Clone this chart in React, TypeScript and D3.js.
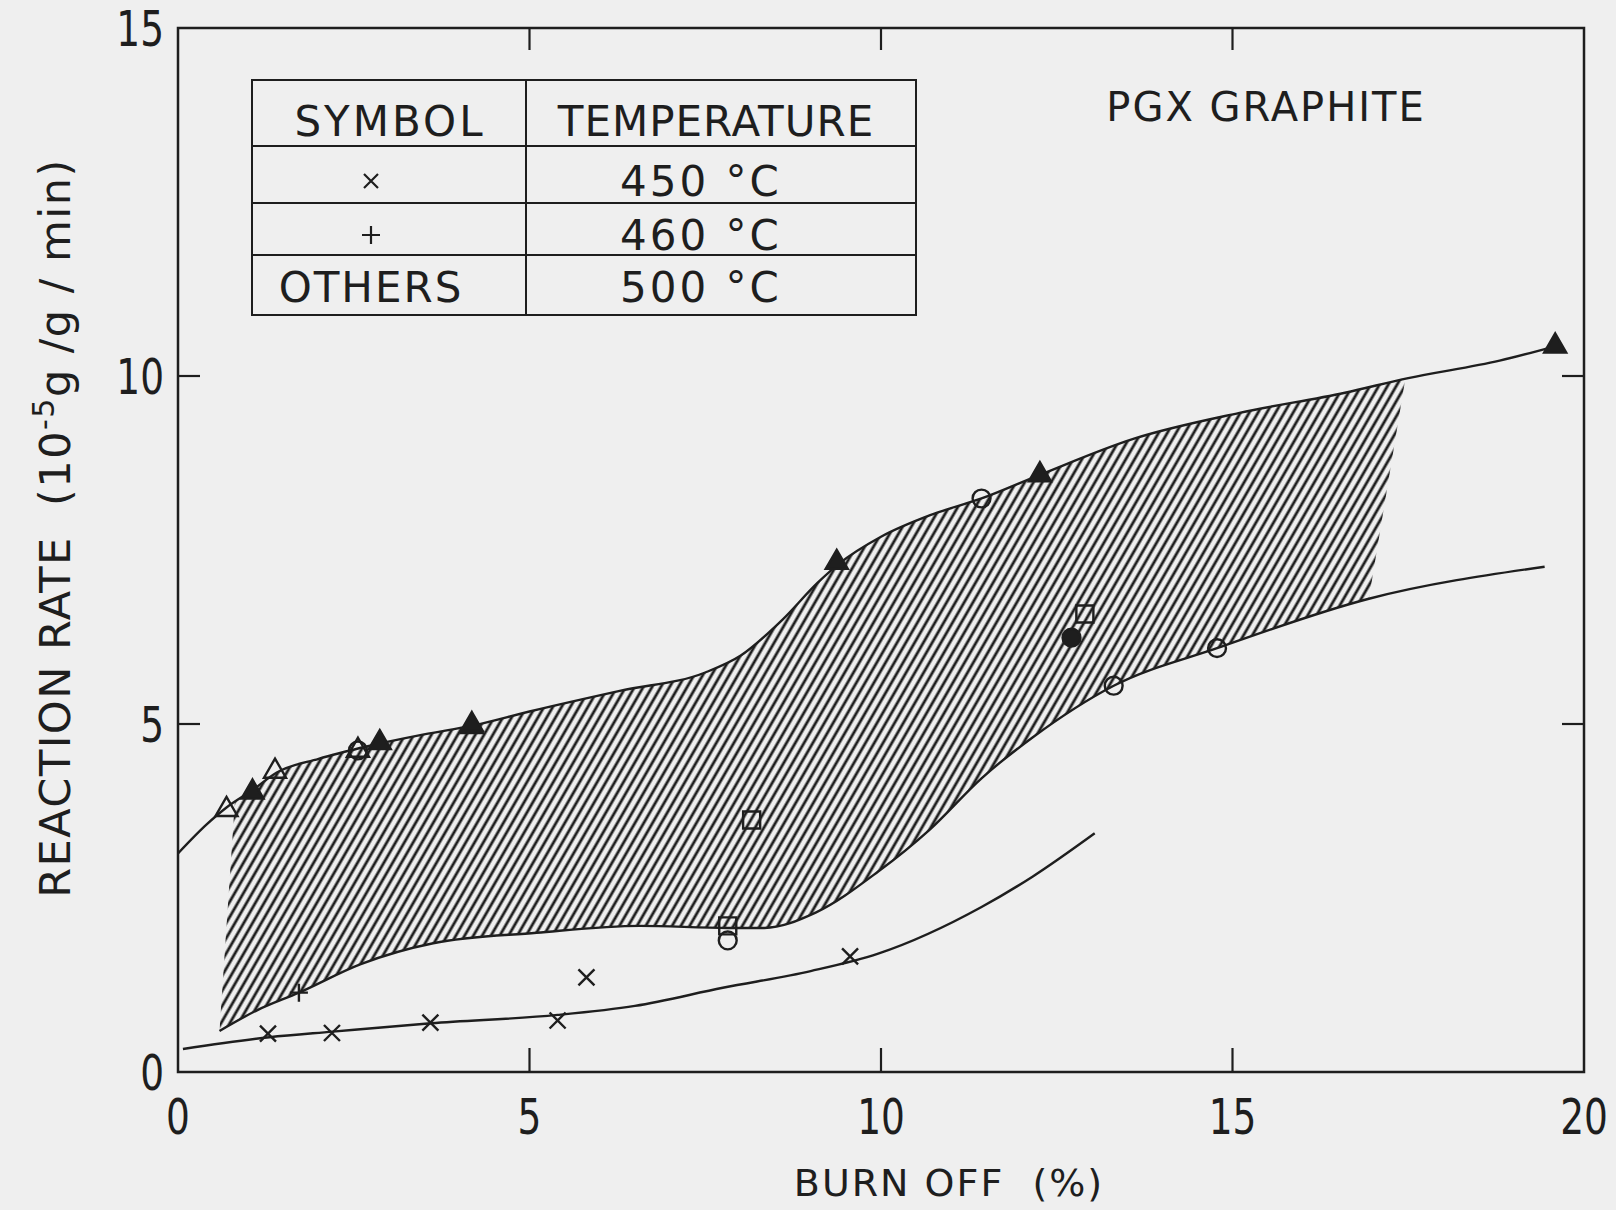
import React from "react";
import * as d3 from "d3";

// axis ticks
const xTicks = [0, 5, 10, 15, 20];
const yTicks = [0, 5, 10, 15];

// upper boundary of the 500 C band (burn off %, rate)
const upperCurve: [number, number][] = [
  [0, 3.14], [0.4, 3.55], [0.69, 3.8], [1.06, 4.05], [1.4, 4.3], [2, 4.5],
  [2.7, 4.68], [3.5, 4.85], [4.2, 4.98], [5, 5.18], [6.3, 5.48], [7.5, 5.74],
  [8.0, 5.98], [8.6, 6.5], [9.1, 7.03], [9.4, 7.3], [10, 7.69], [10.7, 8.0],
  [11.43, 8.24], [12.26, 8.58], [13.6, 9.1], [15.1, 9.47], [16.6, 9.76],
  [17.5, 9.97], [18.8, 10.22], [19.6, 10.43],
];

// lower boundary of the band
const lowerCurve: [number, number][] = [
  [0.59, 0.59], [1.13, 0.89], [1.72, 1.14], [2.6, 1.55], [3.63, 1.85],
  [5.1, 2.0], [6.57, 2.1], [7.82, 2.07], [8.34, 2.07], [9.07, 2.29],
  [9.96, 2.88], [10.69, 3.48], [11.43, 4.22], [12.16, 4.81], [13.31, 5.55],
  [14.78, 6.09], [16.94, 6.8], [19.44, 7.26],
];

// 450 C curve
const bottomCurve: [number, number][] = [
  [0.07, 0.33], [1.3, 0.5], [2.2, 0.58], [3.6, 0.7], [5.4, 0.82], [6.5, 0.95],
  [7.75, 1.21], [9, 1.45], [9.96, 1.7], [11.43, 2.37], [12.16, 2.81], [13.04, 3.43],
];

// ends of the hatched region
const hatchLeft: [number, number][] = [[0.59, 0.59], [0.81, 3.9]];
const hatchRight: [number, number][] = [[16.94, 6.8], [17.46, 9.97]];

// measured points
const cross450: [number, number][] = [
  [1.28, 0.55], [2.19, 0.56], [3.59, 0.71], [5.4, 0.74], [5.81, 1.36], [9.56, 1.66],
];
const plus460: [number, number][] = [[1.72, 1.14]];
const openTri: [number, number][] = [[0.69, 3.77], [1.38, 4.32], [2.56, 4.62], [4.18, 4.96]];
const filledTri: [number, number][] = [
  [1.06, 4.02], [2.87, 4.73], [4.18, 4.99], [9.37, 7.32], [12.26, 8.58], [19.59, 10.43],
];
const openCirc: [number, number][] = [
  [2.56, 4.62], [11.43, 8.24], [13.31, 5.55], [14.78, 6.09], [7.82, 1.89],
];
const filledCirc: [number, number][] = [[12.71, 6.24]];
const openSq: [number, number][] = [[8.16, 3.62], [7.82, 2.1], [12.9, 6.58]];

const legendRows = [
  { sym: "cross", label: "450 °C" },
  { sym: "plus", label: "460 °C" },
  { sym: "OTHERS", label: "500 °C" },
];

const INK = "#1e1e1e";
const FONT = "'DejaVu Sans', sans-serif";

export default function App() {
  const W = 1616;
  const H = 1210;
  const x = d3.scaleLinear().domain([0, 20]).range([178, 1584]);
  const y = d3.scaleLinear().domain([0, 15]).range([1072, 28]);

  const line = d3
    .line<[number, number]>()
    .x((d) => x(d[0]))
    .y((d) => y(d[1]))
    .curve(d3.curveMonotoneX);

  const upperPath = line(upperCurve) as string;
  const lowerPath = line(lowerCurve) as string;
  const bottomPath = line(bottomCurve) as string;

  // clip regions for the hatched band
  const lastU = upperCurve[upperCurve.length - 1];
  const clipBelowUpper = `${upperPath}L${x(lastU[0])},${y(-1)}L${x(upperCurve[0][0])},${y(-1)}Z`;
  const lastL = lowerCurve[lowerCurve.length - 1];
  const clipAboveLower = `${lowerPath}L${x(lastL[0])},${y(16)}L${x(lowerCurve[0][0])},${y(16)}Z`;
  const edgeAt = (e: [number, number][], v: number) =>
    e[0][0] + ((v - e[0][1]) * (e[1][0] - e[0][0])) / (e[1][1] - e[0][1]);
  const quad = [
    [edgeAt(hatchLeft, -1), -1],
    [edgeAt(hatchLeft, 16), 16],
    [edgeAt(hatchRight, 16), 16],
    [edgeAt(hatchRight, -1), -1],
  ]
    .map((p, i) => `${i ? "L" : "M"}${x(p[0])},${y(p[1])}`)
    .join("") + "Z";

  const tri = d3.symbol(d3.symbolTriangle, 210)() as string;
  const circ = d3.symbol(d3.symbolCircle, 250)() as string;
  const sq = d3.symbol(d3.symbolSquare, 290)() as string;
  const cross = "M-8,-8L8,8M-8,8L8,-8";
  const plus = "M-9,0L9,0M0,-9L0,9";

  const markers = (pts: [number, number][], d: string, filled: boolean, key: string) =>
    pts.map((p, i) => (
      <path
        key={key + i}
        d={d}
        transform={`translate(${x(p[0])},${y(p[1])})`}
        fill={filled ? INK : "none"}
        stroke={INK}
        strokeWidth={2.4}
      />
    ));

  const tickLabel = (t: string, tx: number, ty: number, anchor: string) => (
    <text
      key={t + anchor}
      transform={`translate(${tx},${ty}) scale(0.75,1)`}
      textAnchor={anchor}
      fontSize={50}
      fill={INK}
    >
      {t}
    </text>
  );

  // legend geometry
  const tl = { left: 252, mid: 526, right: 916, rows: [80, 146, 203, 255, 315] };
  const rowBase = [196, 250, 302];

  return (
    <svg
      width={W}
      height={H}
      style={{ position: "absolute", left: 0, top: 0, background: "#efefef" }}
      fontFamily={FONT}
    >
      <defs>
        <pattern id="hatch" width={7.6} height={7.6} patternUnits="userSpaceOnUse" patternTransform="rotate(30)">
          <line x1={3.8} y1={-1} x2={3.8} y2={8.6} stroke={INK} strokeWidth={2.8} />
        </pattern>
        <clipPath id="cU"><path d={clipBelowUpper} /></clipPath>
        <clipPath id="cL"><path d={clipAboveLower} /></clipPath>
        <clipPath id="cQ"><path d={quad} /></clipPath>
      </defs>
      <rect width={W} height={H} fill="#efefef" />

      {/* hatched band */}
      <g clipPath="url(#cU)">
        <g clipPath="url(#cL)">
          <g clipPath="url(#cQ)">
            <rect x={x(0)} y={y(15)} width={x(20) - x(0)} height={y(0) - y(15)} fill="url(#hatch)" />
          </g>
        </g>
      </g>

      {/* frame and ticks */}
      <rect x={x(0)} y={y(15)} width={x(20) - x(0)} height={y(0) - y(15)} fill="none" stroke={INK} strokeWidth={2.5} />
      {xTicks.slice(1, -1).map((t) => (
        <g key={"xt" + t} stroke={INK} strokeWidth={2.2}>
          <line x1={x(t)} x2={x(t)} y1={y(0)} y2={y(0) - 24} />
          <line x1={x(t)} x2={x(t)} y1={y(15)} y2={y(15) + 22} />
        </g>
      ))}
      {yTicks.slice(1, -1).map((t) => (
        <g key={"yt" + t} stroke={INK} strokeWidth={2.2}>
          <line x1={x(0)} x2={x(0) + 22} y1={y(t)} y2={y(t)} />
          <line x1={x(20)} x2={x(20) - 22} y1={y(t)} y2={y(t)} />
        </g>
      ))}
      {xTicks.map((t) => tickLabel(String(t), x(t), 1134, "middle"))}
      {yTicks.map((t) => tickLabel(String(t), 164, y(t) + 18, "end"))}

      {/* curves */}
      <g fill="none" stroke={INK} strokeWidth={2.4}>
        <path d={upperPath} />
        <path d={lowerPath} />
        <path d={bottomPath} />
      </g>

      {/* points */}
      {markers(cross450, cross, false, "x")}
      {markers(plus460, plus, false, "p")}
      {markers(openSq, sq, false, "s")}
      {markers(openCirc, circ, false, "c")}
      {markers(openTri, tri, false, "t")}
      {markers(filledTri, tri, true, "T")}
      {markers(filledCirc, circ, true, "C")}

      {/* legend table */}
      <g stroke={INK} strokeWidth={2} fill="none">
        <rect x={tl.left} y={tl.rows[0]} width={tl.right - tl.left} height={tl.rows[4] - tl.rows[0]} />
        {tl.rows.slice(1, 4).map((r) => (
          <line key={"r" + r} x1={tl.left} x2={tl.right} y1={r} y2={r} />
        ))}
        <line x1={tl.mid} x2={tl.mid} y1={tl.rows[0]} y2={tl.rows[4]} />
      </g>
      <g fontSize={42} fill={INK}>
        <text x={390} y={136} textAnchor="middle" letterSpacing={3}>SYMBOL</text>
        <text x={716} y={136} textAnchor="middle" letterSpacing={1}>TEMPERATURE</text>
        {legendRows.map((r, i) =>
          r.sym === "OTHERS" ? (
            <text key={r.label} x={371} y={rowBase[i]} textAnchor="middle" letterSpacing={2}>OTHERS</text>
          ) : (
            <path
              key={r.label}
              d={r.sym === "cross" ? "M-7,-7L7,7M-7,7L7,-7" : plus}
              transform={`translate(371,${rowBase[i] - 15})`}
              stroke={INK}
              strokeWidth={2.2}
            />
          )
        )}
        {legendRows.map((r, i) => (
          <text key={"l" + r.label} x={701} y={rowBase[i]} textAnchor="middle" letterSpacing={3}>
            {r.label}
          </text>
        ))}
      </g>

      <text x={1266} y={121} textAnchor="middle" fontSize={40} fill={INK} letterSpacing={2}>
        PGX GRAPHITE
      </text>

      {/* axis titles */}
      <text
        x={949}
        y={1196}
        textAnchor="middle"
        fontSize={38}
        fill={INK}
        letterSpacing={2}
        xmlSpace="preserve"
      >
        {"BURN OFF  (%)"}
      </text>
      <text
        transform={`translate(70,528) rotate(-90)`}
        textAnchor="middle"
        fontSize={43}
        fill={INK}
        letterSpacing={1.5}
        xmlSpace="preserve"
      >
        {"REACTION RATE  (10"}
        <tspan dy={-16} fontSize={30}>-5</tspan>
        <tspan dy={16}>g /g / min)</tspan>
      </text>
    </svg>
  );
}
